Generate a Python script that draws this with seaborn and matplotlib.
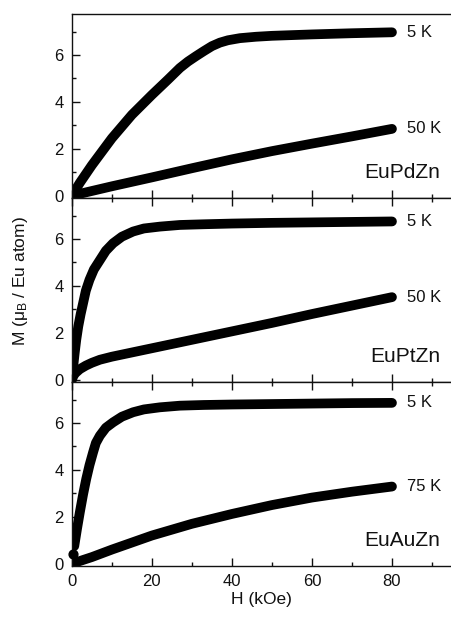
import matplotlib
matplotlib.use('Agg')
import matplotlib.pyplot as plt
import seaborn as sns
from matplotlib.ticker import MultipleLocator

sns.set_style('ticks')
plt.rcParams['font.family'] = ['Liberation Sans', 'DejaVu Sans']
plt.rcParams['mathtext.fontset'] = 'custom'
plt.rcParams['mathtext.rm'] = 'Liberation Sans'
plt.rcParams['mathtext.it'] = 'Liberation Sans:italic'

# EuPdZn
pd_5k_h = [0, 2, 5, 10, 15, 20, 24, 27, 29, 31, 33, 35, 37, 39, 42, 46, 50, 60, 70, 80]
pd_5k_m = [0, 0.55, 1.3, 2.45, 3.45, 4.3, 4.95, 5.45, 5.72, 5.95, 6.17, 6.38, 6.53, 6.63,
           6.72, 6.78, 6.82, 6.88, 6.93, 6.97]
pd_50k_h = [0, 10, 20, 30, 40, 50, 60, 70, 80]
pd_50k_m = [0, 0.4, 0.78, 1.17, 1.55, 1.9, 2.22, 2.53, 2.85]

# EuPtZn
pt_5k_h = [0, 0.3, 0.7, 1.1, 1.6, 2.2, 2.8, 3.5, 4.4, 5.5, 7, 8.5, 10.3, 12.5, 15.3, 18,
           22, 27, 33, 40, 50, 60, 70, 80]
pt_5k_m = [0, 0.5, 1.13, 1.7, 2.27, 2.8, 3.26, 3.8, 4.26, 4.7, 5.1, 5.5, 5.82, 6.1, 6.32,
           6.45, 6.53, 6.6, 6.63, 6.66, 6.69, 6.71, 6.73, 6.75]
pt_50k_h = [0, 0.5, 1, 2, 3.5, 5, 7, 10, 20, 30, 40, 50, 60, 70, 80]
pt_50k_m = [0, 0.2, 0.3, 0.45, 0.6, 0.72, 0.85, 0.98, 1.34, 1.7, 2.06, 2.42, 2.8, 3.16, 3.52]

# EuAuZn
au_5k_h = [0.6, 1.3, 2, 2.8, 3.6, 4.4, 5.3, 6, 7, 8.5, 10.3, 12.5, 15.3, 18, 22, 27, 33,
           40, 50, 60, 70, 80]
au_5k_m = [0.75, 1.5, 2.2, 2.95, 3.62, 4.2, 4.75, 5.15, 5.46, 5.8, 6.03, 6.27, 6.46, 6.58,
           6.67, 6.74, 6.77, 6.79, 6.81, 6.83, 6.85, 6.86]
au_5k_low_h = [0.25]
au_5k_low_m = [0.4]
au_75k_h = [0, 5, 10, 15, 20, 30, 40, 50, 60, 70, 80]
au_75k_m = [0, 0.28, 0.6, 0.9, 1.2, 1.7, 2.12, 2.5, 2.82, 3.07, 3.29]

compounds = ['EuPdZn', 'EuPtZn', 'EuAuZn']
temps = [('5 K', '50 K'), ('5 K', '50 K'), ('5 K', '75 K')]
curves = [
    ((pd_5k_h, pd_5k_m), (pd_50k_h, pd_50k_m)),
    ((pt_5k_h, pt_5k_m), (pt_50k_h, pt_50k_m)),
    ((au_5k_h, au_5k_m), (au_75k_h, au_75k_m)),
]

fig, axes = plt.subplots(3, 1, figsize=(4.52, 6.23), dpi=100, sharex=True)
fig.subplots_adjust(left=0.159, right=1.0, top=0.9775, bottom=0.0915, hspace=0)

for i, ax in enumerate(axes):
    for (h, m), lab in zip(curves[i], temps[i]):
        sns.lineplot(x=h, y=m, ax=ax, color='black', lw=7, sort=False,
                     solid_capstyle='round', solid_joinstyle='round')
        ax.text(h[-1] + 3.8, m[-1], lab, ha='left', va='center', fontsize=12, color='#111')
    ax.text(92, 1.0, compounds[i], ha='right', va='center', fontsize=15, color='#111')

    ax.set_xlim(0, 95)
    ax.set_ylim(-0.1, 7.75)
    ax.xaxis.set_major_locator(MultipleLocator(20))
    ax.xaxis.set_minor_locator(MultipleLocator(10))
    ax.yaxis.set_major_locator(MultipleLocator(2))
    ax.yaxis.set_minor_locator(MultipleLocator(1))
    ax.tick_params(which='both', direction='in', top=(i > 0), right=False,
                   labelsize=12, colors='#111', width=1)
    ax.tick_params(which='major', length=5.5, pad=6)
    ax.tick_params(which='minor', length=3)
    ax.spines['right'].set_visible(False)
    for s in ['left', 'top', 'bottom']:
        ax.spines[s].set_linewidth(1)
        ax.spines[s].set_color('#111')

axes[2].scatter(au_5k_low_h, au_5k_low_m, s=40, color='black', zorder=3, clip_on=False)
axes[2].set_xlabel('H (kOe)', fontsize=12.5, color='#111', labelpad=2)
axes[1].set_ylabel(r'M ($\mathrm{\mu_B}$ / Eu atom)', fontsize=12.5, color='#111')
axes[1].yaxis.set_label_coords(-0.11, 0.55)

fig.savefig('out.png', dpi=100)
